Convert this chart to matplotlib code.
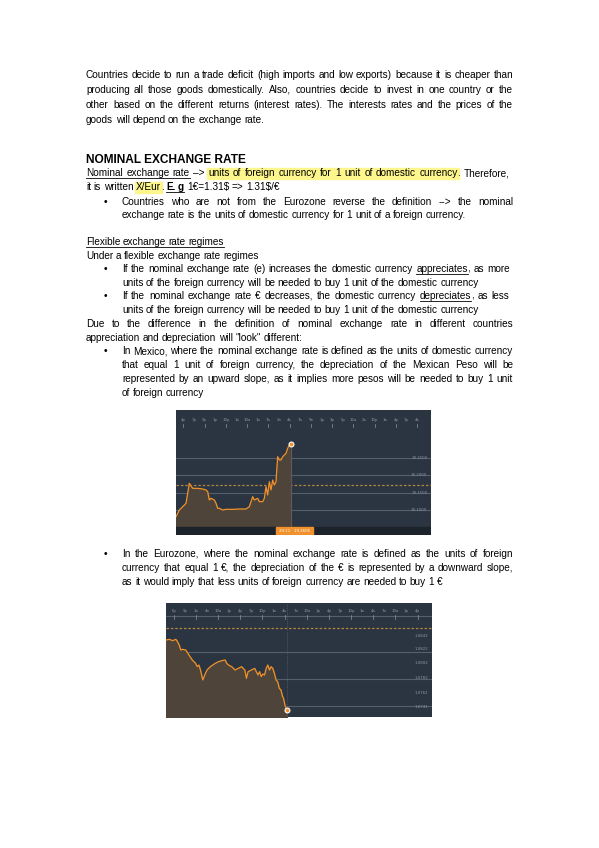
import matplotlib
matplotlib.use("Agg")
import matplotlib.pyplot as plt
from matplotlib.patches import Rectangle

W, H = 599, 848
FONT = "Liberation Sans"
FS = 7.2

# ---- text of the page: (y px, x_left px, justify, text). Tags: |u underline, |h highlight, |b bold
body_lines = [
    (78, 86, True, "Countries decide to run a trade deficit (high imports and low exports) because it is cheaper than"),
    (93, 86, True, "producing all those goods domestically. Also, countries decide to invest in one country or the"),
    (108, 86, True, "other based on the different returns (interest rates). The interests rates and the prices of the"),
    (123, 86, False, "goods will depend on the exchange rate."),
    (176, 86, True, "Nominal|u exchange|u rate|u –> units|h of|h foreign|h currency|h for|h 1|h unit|h of|h domestic|h currency|h . Therefore,"),
    (190, 86, False, "it is written X/Eur|h . E.|bu g|bu 1€=1.31$ => 1.31$/€"),
    (205, 122, True, "Countries who are not from the Eurozone reverse the definition --> the nominal"),
    (218, 122, False, "exchange rate is the units of domestic currency for 1 unit of a foreign currency."),
    (245, 86, False, "Flexible|u exchange|u rate|u regimes|u"),
    (259, 86, False, "Under a flexible exchange rate regimes"),
    (272, 122, True, "If the nominal exchange rate (e) increases the domestic currency appreciates|u , as more"),
    (286, 122, False, "units of the foreign currency will be needed to buy 1 unit of the domestic currency"),
    (299, 122, True, "If the nominal exchange rate € decreases, the domestic currency depreciates|u , as less"),
    (313, 122, False, "units of the foreign currency will be needed to buy 1 unit of the domestic currency"),
    (327, 86, True, "Due to the difference in the definition of nominal exchange rate in different countries"),
    (341, 86, False, "appreciation and depreciation will \"look\" different:"),
    (354, 122, True, "In Mexico, where the nominal exchange rate is defined as the units of domestic currency"),
    (368, 122, True, "that equal 1 unit of foreign currency, the depreciation of the Mexican Peso will be"),
    (382, 122, True, "represented by an upward slope, as it implies more pesos will be needed to buy 1 unit"),
    (396, 122, False, "of foreign currency"),
    (557, 122, True, "In the Eurozone, where the nominal exchange rate is defined as the units of foreign"),
    (571, 122, True, "currency that equal 1 €, the depreciation of the € is represented by a downward slope,"),
    (585, 122, False, "as it would imply that less units of foreign currency are needed to buy 1 €"),
]
bullet_rows = [205, 272, 299, 354, 557]
heading = "NOMINAL EXCHANGE RATE"

# ---- chart 1 (MXN): time position, level
mx_x = [0, 10, 20, 30, 35, 40, 50, 65, 80, 90, 95, 100, 105, 115, 120, 125, 130, 140, 150, 170,
        190, 210, 220, 230, 235, 245, 250, 260, 265, 270, 275, 280, 285, 290, 295, 300, 305, 310,
        315, 320, 325, 330, 335, 340, 345]
mx_y = [55, 75, 85, 95, 125, 155, 140, 140, 138, 135, 130, 105, 110, 105, 95, 80, 80, 75, 77, 77,
        78, 78, 85, 115, 105, 110, 100, 100, 110, 145, 120, 160, 135, 165, 150, 160, 235, 225,
        225, 235, 240, 245, 260, 270, 272]
mx_labels = ["19.2500", "19.2000", "19.1500", "19.1000"]
mx_grid = [230, 180, 125, 75]
mx_top = ["4p", "7p", "9p", "1p", "10p", "1a", "10a", "1a", "7a", "2a", "4a", "7a", "9a", "1p",
          "3p", "5p", "12a", "2a", "10p", "1a", "4p", "7p", "4a"]

# ---- chart 2 (EUR)
eu_x = [0, 10, 20, 30, 35, 40, 45, 50, 60, 70, 80, 90, 95, 100, 105, 112, 120, 125, 135, 150, 160,
        170, 180, 185, 190, 200, 210, 220, 230, 240, 245, 250, 260, 270, 280, 285, 290, 295, 300,
        305, 310, 315, 320, 325, 330, 335, 340, 345, 350, 355, 358, 362, 368]
eu_y = [240, 242, 238, 242, 235, 225, 210, 212, 210, 195, 180, 170, 160, 165, 150, 120, 140, 150,
        160, 170, 175, 178, 180, 170, 165, 160, 150, 155, 160, 150, 125, 145, 150, 155, 135, 145,
        130, 138, 135, 155, 165, 150, 160, 155, 140, 120, 115, 95, 90, 70, 65, 45, 30]
eu_labels = ["1.0842", "1.0822", "1.0802", "1.0782", "1.0762", "1.0741"]
eu_label_lv = [253, 212, 170, 125, 82, 40]
eu_grid = [205, 123, 42]
eu_top = ["6p", "9p", "1a", "4a", "10a", "1p", "4p", "7p", "10p", "1a", "4a", "7a", "10a", "1p",
          "4p", "7p", "10p", "1a", "4a", "7a", "10a", "1p", "4p"]

BG = "#2b3441"
ORANGE = "#f0912b"
FILL = "#4e4439"

fig = plt.figure(figsize=(W / 100, H / 100), dpi=100)
renderer = fig.canvas.get_renderer()


def fx(x):
    return x / W


def fy(y):
    return 1 - y / H


def draw_line(y, x0, justify, text, x1=513):
    words = []
    for tok in text.split(" "):
        st = ""
        if "|" in tok:
            tok, st = tok.split("|")
        words.append((tok, st))
    arts = []
    for w, st in words:
        t = fig.text(fx(x0), fy(y), w, fontsize=FS, family=FONT,
                     fontweight="bold" if "b" in st else "normal", va="baseline", zorder=3)
        arts.append(t)
    widths = [a.get_window_extent(renderer).width for a in arts]
    space = 2.6
    if justify and len(words) > 1:
        gap = (x1 - x0 - sum(widths)) / (len(words) - 1)
    else:
        gap = space
    # punctuation glued to the previous word
    x = x0
    spans = []
    for i, (a, (w, st)) in enumerate(zip(arts, words)):
        if i > 0 and w in (",", "."):
            x -= gap
        a.set_x(fx(x))
        spans.append((x, x + widths[i], st))
        x += widths[i] + gap
    for key in ("u", "h"):
        i = 0
        while i < len(spans):
            if key in spans[i][2]:
                j = i
                while j + 1 < len(spans) and key in spans[j + 1][2]:
                    j += 1
                a, b = spans[i][0], spans[j][1]
                if key == "u":
                    fig.add_artist(plt.Line2D([fx(a), fx(b)], [fy(y + 1.8)] * 2, lw=0.6,
                                              color="black", transform=fig.transFigure))
                else:
                    fig.add_artist(Rectangle((fx(a - 1), fy(y + 3)), (b - a + 2) / W, 11 / H,
                                             color="#fdf68d", transform=fig.transFigure, zorder=1))
                i = j + 1
            else:
                i += 1


for y, x0, just, txt in body_lines:
    draw_line(y, x0, just, txt)
for y in bullet_rows:
    fig.text(fx(104), fy(y), "•", fontsize=FS, family=FONT, va="baseline")
fig.text(fx(86), fy(163), heading, fontsize=8.6, family=FONT, fontweight="bold", va="baseline")


def chart(rect, xs, ys, xmax, ylo, yhi, grid, labels, label_lv, top, top_lv, dash_lv,
          bottom_band=None):
    ax = fig.add_axes(rect)
    ax.set_facecolor(BG)
    ax.set_xlim(0, xmax)
    ax.set_ylim(ylo, yhi)
    ax.axis("off")
    ax.add_patch(Rectangle((0, ylo), xmax, yhi - ylo, color=BG, zorder=0))
    for g in grid:
        ax.axhline(g, color="#56606d", lw=0.8, zorder=1)
    ax.axhline(dash_lv, color="#b0873f", lw=0.9, ls=(0, (2, 1.5)), zorder=2)
    base = bottom_band if bottom_band else ylo
    ax.fill_between(xs, ys, base, color=FILL, zorder=2)
    ax.plot(xs, ys, color=ORANGE, lw=0.9, zorder=3)
    ax.plot(xs[-1], ys[-1], "o", ms=3.5, mfc=ORANGE, mec="white", mew=0.8, zorder=4)
    step = xmax / (len(top) + 1)
    for i, lab in enumerate(top):
        ax.text((i + 0.7) * step, top_lv, lab, fontsize=2.8, color="#8e97a3", ha="center", va="center")
        if i % 2 == 0:
            ax.plot([(i + 0.7) * step] * 2, [top_lv - 22, top_lv - 12], color="#8e97a3", lw=0.5)
    for lab, lv in zip(labels, label_lv):
        ax.text(xmax * 0.985, lv, lab, fontsize=2.8, color="#8e97a3", ha="right", va="center")
    return ax


ax1 = chart([fx(176), fy(535), 255 / W, 125 / H], mx_x, mx_y, 765, 0, 375, mx_grid, mx_labels,
            [230, 180, 125, 75], mx_top, 345, 150, bottom_band=23)
ax1.add_patch(Rectangle((0, 0), 765, 23, color="#1d232b", zorder=3))
ax1.add_patch(Rectangle((300, 0), 110, 23, color=ORANGE, zorder=4))
ax1.text(355, 11, "20:11   19.2605", fontsize=2.8, color="white", ha="center", va="center", zorder=5)
ax1.axvline(345, ymin=23 / 375, ymax=272 / 375, color="#6a6f78", lw=0.4, zorder=2)

ax2 = chart([fx(166), fy(717), 266 / W, 114 / H], eu_x, eu_y, 810, 9, 351, eu_grid, eu_labels,
            eu_label_lv, eu_top, 326, 277)
ax2.axhline(312, color="#56606d", lw=0.8, zorder=1)
ax2.axvline(368, color="#6a6f78", lw=0.5, ls=":", zorder=2)

fig.savefig("out.png", dpi=100)
